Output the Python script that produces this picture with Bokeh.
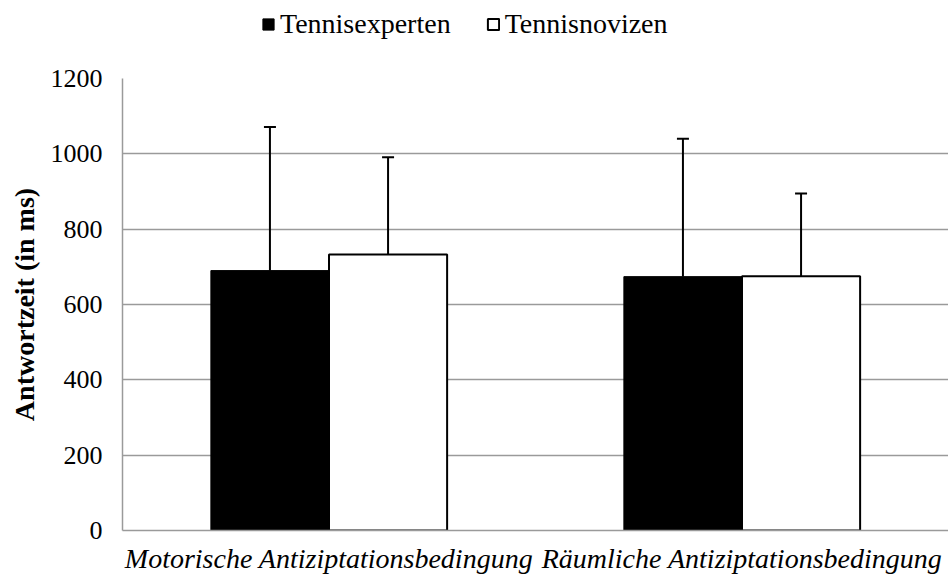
from bokeh.plotting import figure
from bokeh.layouts import column
from bokeh.models import ColumnDataSource, FactorRange, Legend, LegendItem, Whisker, TeeHead, FixedTicker
from bokeh.transform import dodge
from bokeh.embed import file_html
from bokeh.resources import INLINE

categories = ["Motorische Antiziptationsbedingung", "Räumliche Antiziptationsbedingung"]
series_names = ["Tennisexperten", "Tennisnovizen"]
experten_mean = [690, 674]
experten_upper = [1071, 1040]
novizen_mean = [733, 675]
novizen_upper = [991, 895]
y_ticks = [0, 200, 400, 600, 800, 1000, 1200]

FONT = "Liberation Serif"
W = 948
LEG_H = 40

src_e = ColumnDataSource(dict(cat=categories, mean=experten_mean, upper=experten_upper))
src_n = ColumnDataSource(dict(cat=categories, mean=novizen_mean, upper=novizen_upper))

p = figure(x_range=FactorRange(factors=categories, range_padding=0),
           y_range=(0, 1200), width=W, height=578 - LEG_H,
           output_backend="svg", toolbar_location=None,
           min_border_left=122, min_border_top=78 - LEG_H, min_border_right=0, min_border_bottom=48)

bw = 0.286
black_style = dict(fill_color="black", line_color="black", line_width=1)
white_style = dict(fill_color="white", line_color="black", line_width=2)
p.vbar(x=dodge("cat", -bw / 2, range=p.x_range), top="mean", width=bw, source=src_e, **black_style)
p.vbar(x=dodge("cat", bw / 2, range=p.x_range), top="mean", width=bw, source=src_n, **white_style)

for src, off in ((src_e, -bw / 2), (src_n, bw / 2)):
    w = Whisker(base=dodge("cat", off, range=p.x_range), lower="mean", upper="upper", source=src,
                line_color="black", line_width=2, lower_head=None,
                upper_head=TeeHead(size=12, line_color="black", line_width=2))
    p.add_layout(w)

p.outline_line_color = None
p.xgrid.grid_line_color = None
p.ygrid.grid_line_color = "#9a9a9a"
p.ygrid.grid_line_width = 1.5

p.yaxis.ticker = FixedTicker(ticks=y_ticks)
p.yaxis.axis_line_color = "#9a9a9a"
p.yaxis.axis_line_width = 1.5
p.yaxis.major_tick_line_color = None
p.yaxis.minor_tick_line_color = None
p.yaxis.major_tick_out = 0
p.yaxis.major_label_standoff = 20
p.yaxis.major_label_text_font = FONT
p.yaxis.major_label_text_font_size = "26px"
p.yaxis.major_label_text_color = "black"
p.yaxis.axis_label = "Antwortzeit (in ms)"
p.yaxis.axis_label_text_font = FONT
p.yaxis.axis_label_text_font_style = "bold"
p.yaxis.axis_label_text_font_size = "28px"
p.yaxis.axis_label_text_color = "black"
p.yaxis.axis_label_standoff = 8

p.xaxis.axis_line_color = "#9a9a9a"
p.xaxis.axis_line_width = 1.5
p.xaxis.major_tick_line_color = None
p.xaxis.major_tick_out = 0
p.xaxis.major_label_standoff = 12
p.xaxis.major_label_text_font = FONT
p.xaxis.major_label_text_font_style = "italic"
p.xaxis.major_label_text_font_size = "28px"
p.xaxis.major_label_text_color = "black"

# Legend strip above the chart (its frame is aligned with the chart's frame)
lf = figure(width=W, height=LEG_H, x_range=(0, 1), y_range=(0, 1),
            output_backend="svg", toolbar_location=None,
            x_axis_type=None, y_axis_type=None, min_border=0)
lf.outline_line_color = None
lf.xgrid.visible = False
lf.ygrid.visible = False
# hidden stand-in renderers, used only to draw the legend swatches
le = lf.vbar(x=[0.5], top=[1], width=0.1, visible=False, **black_style)
ln = lf.vbar(x=[0.5], top=[1], width=0.1, visible=False, **white_style)
legend = Legend(items=[LegendItem(label=series_names[0], renderers=[le]),
                       LegendItem(label=series_names[1], renderers=[ln])],
                orientation="horizontal", location=(139, 0),
                border_line_color=None, background_fill_alpha=0,
                padding=0, margin=0, spacing=35, label_standoff=5,
                glyph_width=14, glyph_height=14,
                label_text_font=FONT, label_text_font_size="28px", label_text_color="black")
lf.add_layout(legend, "center")

layout = column(lf, p, spacing=0)
open("out.html", "w").write(file_html(layout, INLINE))
